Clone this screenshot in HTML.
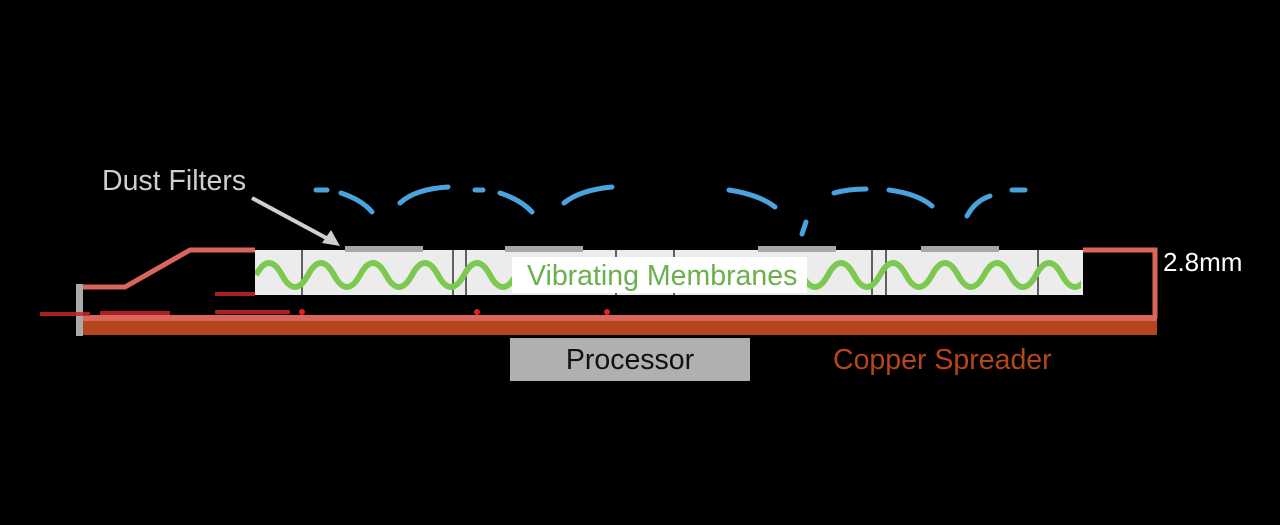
<!DOCTYPE html>
<html><head><meta charset="utf-8"><style>
html,body{margin:0;padding:0;background:#000;width:1280px;height:525px;overflow:hidden}
svg{display:block}
text{font-family:"Liberation Sans",sans-serif}
</style></head><body>
<svg width="1280" height="525" viewBox="0 0 1280 525" xmlns="http://www.w3.org/2000/svg">
<defs><clipPath id="c"><rect x="255" y="248" width="826" height="50"/></clipPath></defs>
<rect width="1280" height="525" fill="#000"/>
<rect x="255" y="250" width="828" height="45" fill="#ececec"/>
<g stroke="#333" stroke-width="1.5">
<line x1="302" y1="250" x2="302" y2="295"/><line x1="453" y1="250" x2="453" y2="295"/>
<line x1="466" y1="250" x2="466" y2="295"/><line x1="616" y1="250" x2="616" y2="295"/>
<line x1="674" y1="250" x2="674" y2="295"/><line x1="872" y1="250" x2="872" y2="295"/>
<line x1="886" y1="250" x2="886" y2="295"/><line x1="1038" y1="250" x2="1038" y2="295"/>
</g>
<g fill="#a8a8a8">
<rect x="345" y="246" width="78" height="6"/><rect x="505" y="246" width="78" height="6"/>
<rect x="758" y="246" width="78" height="6"/><rect x="921" y="246" width="78" height="6"/>
</g>
<path clip-path="url(#c)" fill="none" stroke="#7cc94f" stroke-width="6" d="M256 275 q13 -24 26 0 t26 0 t26 0 t26 0 t26 0 t26 0 t26 0 t26 0 t26 0 t26 0 t26 0 t26 0 t26 0 t26 0 t26 0 t26 0 t26 0 t26 0 t26 0 t26 0 t26 0 t26 0 t26 0 t26 0 t26 0 t26 0 t26 0 t26 0 t26 0 t26 0 t26 0 t26 0 t26 0"/>
<rect x="512" y="257" width="295" height="36" fill="#fff"/>
<text x="527" y="285" font-size="28.5" fill="#6ab04c">Vibrating Membranes</text>
<path d="M82 287 L125 287 L190 250 L255 250" fill="none" stroke="#d9665a" stroke-width="5"/>
<path d="M1083 250 L1155 250 L1155 318" fill="none" stroke="#d9665a" stroke-width="5"/>
<rect x="82" y="315" width="1075" height="6" fill="#d9665a"/>
<rect x="82" y="321" width="1075" height="14" fill="#b5451b"/>
<rect x="76" y="284" width="7" height="52" fill="#aaa"/>
<g stroke="#c8262a" stroke-width="4" opacity="0.85">
<line x1="40" y1="314" x2="90" y2="314"/><line x1="100" y1="313" x2="170" y2="313"/>
<line x1="215" y1="312" x2="290" y2="312"/><line x1="215" y1="294" x2="255" y2="294"/>
</g>
<circle cx="302" cy="312" r="3" fill="#d22"/><circle cx="477" cy="312" r="3" fill="#d22"/><circle cx="607" cy="312" r="3" fill="#d22"/>
<g fill="none" stroke="#4aa3dc" stroke-width="5" stroke-linecap="round">
<path d="M316 190 L327 190"/><path d="M341 193 Q362 200 372 212"/><path d="M400 203 Q415 189 448 187"/>
<path d="M475 190 L483 190"/><path d="M500 193 Q521 200 532 212"/><path d="M564 203 Q580 190 612 187"/>
<path d="M729 190 Q760 195 775 207"/><path d="M806 222 L802 234"/><path d="M834 193 Q848 189 866 189"/>
<path d="M889 190 Q918 194 932 206"/><path d="M967 216 Q975 201 990 196"/><path d="M1012 190 L1025 190"/>
</g>
<text x="102" y="190" font-size="28.5" fill="#cfcfcf">Dust Filters</text>
<line x1="252" y1="198" x2="330" y2="240" stroke="#cfcfcf" stroke-width="4"/>
<polygon points="340,246 322,243 331,230" fill="#cfcfcf"/>
<rect x="510" y="338" width="240" height="43" fill="#b0b0b0"/>
<text x="630" y="369" font-size="28.5" fill="#111" text-anchor="middle">Processor</text>
<text x="833" y="369" font-size="28.5" fill="#b5451b">Copper Spreader</text>
<text x="1163" y="271" font-size="26" fill="#fff">2.8mm</text>
</svg>
</body></html>
